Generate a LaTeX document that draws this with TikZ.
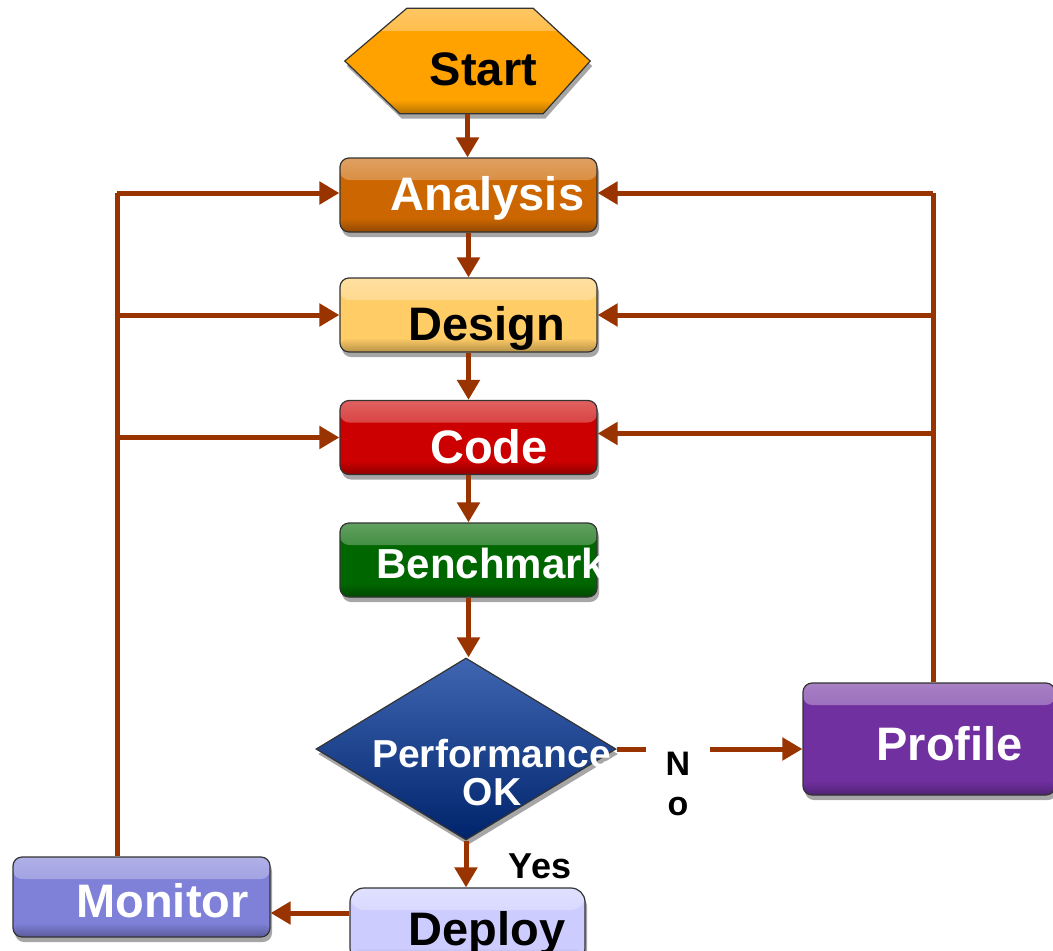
\documentclass[tikz,border=0pt]{standalone}
\usepackage{fontspec}
\setmainfont{Liberation Sans}
\usetikzlibrary{arrows.meta,shapes.geometric,shadows,calc}

\definecolor{flowc}{HTML}{993300}
\definecolor{startc}{HTML}{FFA200}
\definecolor{analysisc}{HTML}{CC6600}
\definecolor{designc}{HTML}{FFCC66}
\definecolor{codec}{HTML}{CC0000}
\definecolor{benchc}{HTML}{006600}
\definecolor{perfc}{HTML}{003399}
\definecolor{profilec}{HTML}{7030A0}
\definecolor{monitorc}{HTML}{7F80D8}
\definecolor{deployc}{HTML}{CCCCFF}

\begin{document}
\begin{tikzpicture}[x=1pt,y=-1pt,
  gloss/.style={fill=#1, path picture={
      \shade[top color=#1!60!white, bottom color=#1]
        ([yshift=4pt]path picture bounding box.north west) rectangle
        ([yshift=-22pt]path picture bounding box.north east);
      \shade[top color=#1, bottom color=#1!65!black]
        ([yshift=14pt]path picture bounding box.south west) rectangle
        ([yshift=-3pt]path picture bounding box.south east);
    }},
  shadowed/.style={drop shadow={shadow xshift=2pt,shadow yshift=-5pt,opacity=0.35,fill=black}},
  box/.style={rectangle, rounded corners=9pt, draw=black!80, line width=1.2pt,
    minimum width=257pt, minimum height=74pt, inner sep=0pt, shadowed},
  lbl/.style={font=\fontsize{47}{50}\selectfont\bfseries, anchor=base, inner sep=0pt},
  lblw/.style={lbl, text=white},
  small/.style={font=\fontsize{#1}{#1}\selectfont\bfseries, anchor=base, inner sep=0pt},
  flow/.style={draw=flowc, line width=5pt},
  arr/.style={flow, -{Triangle[length=20pt,width=22pt]}},
]
\useasboundingbox (0,0) rectangle (1053,951);
\clip (0,0) rectangle (1053,951);

% ---- start hexagon ----
\node[minimum width=245pt, minimum height=105pt, inner sep=0pt] (start) at (467.5,61) {};
\path[draw=black!80, line width=1.2pt, gloss=startc, shadowed]
  (start.west) -- ($(start.north west)+(62,0)$) -- ($(start.north east)+(-57,0)$)
  -- (start.east) -- ($(start.south east)+(-47,0)$) -- ($(start.south west)+(55,0)$) -- cycle;
\node[lbl] (start-t) at (483.5,85) {Start};

% ---- process boxes ----
\node[box, gloss=analysisc] (analysis) at (468.5,195) {};
\node[lblw] (analysis-t) at (487.5,210) {Analysis};

\node[box, gloss=designc] (design) at (468.5,315) {};
\node[lbl] (design-t) at (486.5,340) {Design};

\node[box, gloss=codec] (code) at (468.5,437.5) {};
\node[lblw] (code-t) at (489,463) {Code};

\node[box, gloss=benchc] (bench) at (468.5,560) {};
\node[small=42, text=white] (bench-t) at (491,578) {Benchmark};

% ---- decision ----
\node[diamond, aspect=1.65, minimum width=300pt, minimum height=182pt, inner sep=0pt,
  draw=black!80, line width=1.2pt, shadowed,
  top color=perfc!75!white, middle color=perfc, bottom color=perfc!70!black] (perf) at (466,749) {};
\node[small=39, text=white] (perf-t1) at (491.5,767) {Performance};
\node[small=39, text=white] (perf-t2) at (492,805) {OK};

% ---- side and bottom boxes ----
\node[box, gloss=profilec, minimum width=252pt, minimum height=112pt] (profile) at (929,739) {};
\node[lblw] (profile-t) at (949.5,760) {Profile};

\node[box, gloss=monitorc, minimum width=257pt, minimum height=80pt] (monitor) at (141.5,897) {};
\node[lblw] (monitor-t) at (162.5,917) {Monitor};

\node[box, gloss=deployc, rounded corners=14pt, minimum width=235pt, minimum height=74pt] (deploy) at (467.5,925) {};
\node[lbl] (deploy-t) at (487,945) {Deploy};

% ---- branch labels ----
\node[small=34, inner xsep=20pt] (no) at (678,775) {N};
\node[small=34] (no-o) at (678,815) {o};
\node[small=36] (yes) at (540,878) {Yes};

% ---- main flow ----
\draw[arr] (start.south) -- (start.south |- analysis.north);
\draw[arr] (analysis.south) -- (analysis.south |- design.north);
\draw[arr] (design.south) -- (design.south |- code.north);
\draw[arr] (code.south) -- (code.south |- bench.north);
\draw[arr] (bench.south) -- (bench.south |- perf.north);
\draw[arr] (perf.south) -- (perf.south |- deploy.north);
\draw[arr] ([yshift=12pt]deploy.west) -- ([yshift=12pt]deploy.west -| monitor.east);

% ---- "No" branch ----
\draw[flow] (perf.east) -- (perf.east -| no.west);
\draw[arr] (perf.east -| no.east) -- (profile.west |- perf.east);

% ---- feedback loops ----
\coordinate (L) at (117,193);
\coordinate (R) at (933,193);
\draw[flow] ([xshift=-24.5pt]monitor.north) -- (L);
\draw[arr] (L) -- (L -| analysis.west);
\draw[arr] (L |- design.west) -- (design.west);
\draw[arr] (L |- code.west) -- (code.west);
\draw[flow] (R |- profile.north) -- (R);
\draw[arr] (R) -- (R -| analysis.east);
\draw[arr] (R |- design.east) -- (design.east);
\draw[arr] ([yshift=4pt]R |- code.east) -- ([yshift=4pt]code.east);
\end{tikzpicture}
\end{document}
